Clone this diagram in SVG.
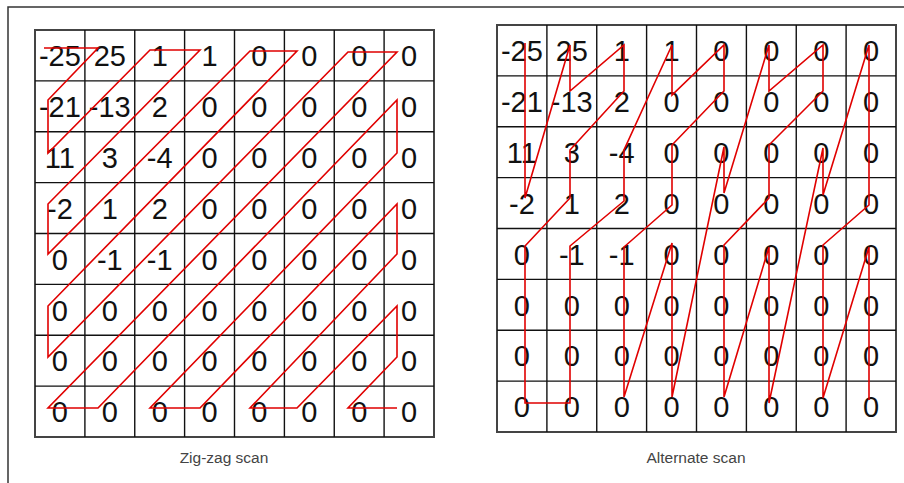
<svg xmlns="http://www.w3.org/2000/svg" width="904" height="483" viewBox="0 0 904 483">
<style>
.bg{fill:#ffffff}
.frame{fill:none;stroke:#333333;stroke-width:1.5}
.grid{fill:none;stroke:#111111;stroke-width:1.4}
.border{fill:none;stroke:#444444;stroke-width:2}
.v{font-family:"Liberation Sans",Arial,sans-serif;font-size:29px;fill:#111111;text-anchor:middle}
.cap{font-family:"Liberation Sans",Arial,sans-serif;font-size:15.5px;fill:#444444;text-anchor:middle}
.scan{fill:none;stroke:#e00000;stroke-width:1.6;stroke-linejoin:miter}
</style>
<rect class="bg" x="0" y="0" width="904" height="483"/>
<path class="frame" d="M8,483 V7 H904"/>

<g id="zigzag-table">
<g id="zigzag-grid">
<rect class="border" x="35" y="30" width="399" height="407"/>
<path class="grid" d="M84.9,30V437M134.75,30V437M184.6,30V437M234.5,30V437M284.4,30V437M334.25,30V437M384.1,30V437M35,80.9H434M35,131.75H434M35,182.6H434M35,233.5H434M35,284.4H434M35,335.25H434M35,386.1H434"/>
</g>
<g id="zigzag-values">
<text class="v" x="59.9" y="66">-25</text><text class="v" x="109.8" y="66">25</text><text class="v" x="159.7" y="66">1</text><text class="v" x="209.6" y="66">1</text><text class="v" x="259.4" y="66">0</text><text class="v" x="309.3" y="66">0</text><text class="v" x="359.2" y="66">0</text><text class="v" x="409.1" y="66">0</text>
<text class="v" x="59.9" y="117">-21</text><text class="v" x="109.8" y="117">-13</text><text class="v" x="159.7" y="117">2</text><text class="v" x="209.6" y="117">0</text><text class="v" x="259.4" y="117">0</text><text class="v" x="309.3" y="117">0</text><text class="v" x="359.2" y="117">0</text><text class="v" x="409.1" y="117">0</text>
<text class="v" x="59.9" y="167.5">11</text><text class="v" x="109.8" y="167.5">3</text><text class="v" x="159.7" y="167.5">-4</text><text class="v" x="209.6" y="167.5">0</text><text class="v" x="259.4" y="167.5">0</text><text class="v" x="309.3" y="167.5">0</text><text class="v" x="359.2" y="167.5">0</text><text class="v" x="409.1" y="167.5">0</text>
<text class="v" x="59.9" y="218.5">-2</text><text class="v" x="109.8" y="218.5">1</text><text class="v" x="159.7" y="218.5">2</text><text class="v" x="209.6" y="218.5">0</text><text class="v" x="259.4" y="218.5">0</text><text class="v" x="309.3" y="218.5">0</text><text class="v" x="359.2" y="218.5">0</text><text class="v" x="409.1" y="218.5">0</text>
<text class="v" x="59.9" y="269.5">0</text><text class="v" x="109.8" y="269.5">-1</text><text class="v" x="159.7" y="269.5">-1</text><text class="v" x="209.6" y="269.5">0</text><text class="v" x="259.4" y="269.5">0</text><text class="v" x="309.3" y="269.5">0</text><text class="v" x="359.2" y="269.5">0</text><text class="v" x="409.1" y="269.5">0</text>
<text class="v" x="59.9" y="320.5">0</text><text class="v" x="109.8" y="320.5">0</text><text class="v" x="159.7" y="320.5">0</text><text class="v" x="209.6" y="320.5">0</text><text class="v" x="259.4" y="320.5">0</text><text class="v" x="309.3" y="320.5">0</text><text class="v" x="359.2" y="320.5">0</text><text class="v" x="409.1" y="320.5">0</text>
<text class="v" x="59.9" y="371">0</text><text class="v" x="109.8" y="371">0</text><text class="v" x="159.7" y="371">0</text><text class="v" x="209.6" y="371">0</text><text class="v" x="259.4" y="371">0</text><text class="v" x="309.3" y="371">0</text><text class="v" x="359.2" y="371">0</text><text class="v" x="409.1" y="371">0</text>
<text class="v" x="59.9" y="422">0</text><text class="v" x="109.8" y="422">0</text><text class="v" x="159.7" y="422">0</text><text class="v" x="209.6" y="422">0</text><text class="v" x="259.4" y="422">0</text><text class="v" x="309.3" y="422">0</text><text class="v" x="359.2" y="422">0</text><text class="v" x="409.1" y="422">0</text>
</g>
<text id="zigzag-caption" class="cap" x="224" y="463">Zig-zag scan</text>
</g>

<g id="alternate-table">
<g id="alternate-grid">
<rect class="border" x="497" y="25" width="399" height="407"/>
<path class="grid" d="M546.9,25V432M596.75,25V432M646.6,25V432M696.5,25V432M746.4,25V432M796.25,25V432M846.1,25V432M497,75.9H896M497,126.75H896M497,177.6H896M497,228.5H896M497,279.4H896M497,330.25H896M497,381.1H896"/>
</g>
<g id="alternate-values">
<text class="v" x="521.9" y="61">-25</text><text class="v" x="571.8" y="61">25</text><text class="v" x="621.7" y="61">1</text><text class="v" x="671.6" y="61">1</text><text class="v" x="721.4" y="61">0</text><text class="v" x="771.3" y="61">0</text><text class="v" x="821.2" y="61">0</text><text class="v" x="871.1" y="61">0</text>
<text class="v" x="521.9" y="112">-21</text><text class="v" x="571.8" y="112">-13</text><text class="v" x="621.7" y="112">2</text><text class="v" x="671.6" y="112">0</text><text class="v" x="721.4" y="112">0</text><text class="v" x="771.3" y="112">0</text><text class="v" x="821.2" y="112">0</text><text class="v" x="871.1" y="112">0</text>
<text class="v" x="521.9" y="162.5">11</text><text class="v" x="571.8" y="162.5">3</text><text class="v" x="621.7" y="162.5">-4</text><text class="v" x="671.6" y="162.5">0</text><text class="v" x="721.4" y="162.5">0</text><text class="v" x="771.3" y="162.5">0</text><text class="v" x="821.2" y="162.5">0</text><text class="v" x="871.1" y="162.5">0</text>
<text class="v" x="521.9" y="213.5">-2</text><text class="v" x="571.8" y="213.5">1</text><text class="v" x="621.7" y="213.5">2</text><text class="v" x="671.6" y="213.5">0</text><text class="v" x="721.4" y="213.5">0</text><text class="v" x="771.3" y="213.5">0</text><text class="v" x="821.2" y="213.5">0</text><text class="v" x="871.1" y="213.5">0</text>
<text class="v" x="521.9" y="264.5">0</text><text class="v" x="571.8" y="264.5">-1</text><text class="v" x="621.7" y="264.5">-1</text><text class="v" x="671.6" y="264.5">0</text><text class="v" x="721.4" y="264.5">0</text><text class="v" x="771.3" y="264.5">0</text><text class="v" x="821.2" y="264.5">0</text><text class="v" x="871.1" y="264.5">0</text>
<text class="v" x="521.9" y="315.5">0</text><text class="v" x="571.8" y="315.5">0</text><text class="v" x="621.7" y="315.5">0</text><text class="v" x="671.6" y="315.5">0</text><text class="v" x="721.4" y="315.5">0</text><text class="v" x="771.3" y="315.5">0</text><text class="v" x="821.2" y="315.5">0</text><text class="v" x="871.1" y="315.5">0</text>
<text class="v" x="521.9" y="366">0</text><text class="v" x="571.8" y="366">0</text><text class="v" x="621.7" y="366">0</text><text class="v" x="671.6" y="366">0</text><text class="v" x="721.4" y="366">0</text><text class="v" x="771.3" y="366">0</text><text class="v" x="821.2" y="366">0</text><text class="v" x="871.1" y="366">0</text>
<text class="v" x="521.9" y="417">0</text><text class="v" x="571.8" y="417">0</text><text class="v" x="621.7" y="417">0</text><text class="v" x="671.6" y="417">0</text><text class="v" x="721.4" y="417">0</text><text class="v" x="771.3" y="417">0</text><text class="v" x="821.2" y="417">0</text><text class="v" x="871.1" y="417">0</text>
</g>
<text id="alternate-caption" class="cap" x="696" y="463">Alternate scan</text>
</g>

<g id="connectors">
<polyline id="zigzag-path" class="scan" points="44,48 98,48 48,100 48,153 150,50 200,50 48,204 48,254 250,51 297,51 48,306 48,357 348,52 397,52 48,408 98,408 397,100 397,153 150,408 200,408 397,204 397,254 250,408 297,408 397,306 397,357 348,408 397,408"/>
<polyline id="alternate-path" class="scan" points="525,43 525,91 525,147 525,198 570,45 570,91 624,45 624,91 570,150 570,198 525,246 525,298 525,349 525,403 570,403 570,349 570,298 570,246 624,201 624,150 672,45 672,95 724,45 724,91 672,145 672,205 624,247 624,298 624,349 624,397 672,243 672,298 672,349 672,397 724,147 724,193 769,45 769,91 823,45 823,91 769,145 769,198 724,245 724,298 724,349 724,397 769,247 769,298 769,349 769,403 823,148 823,195 869,45 869,91 869,147 869,205 823,245 823,298 823,349 823,398 869,247 869,298 869,349 869,400"/>
</g>
</svg>
